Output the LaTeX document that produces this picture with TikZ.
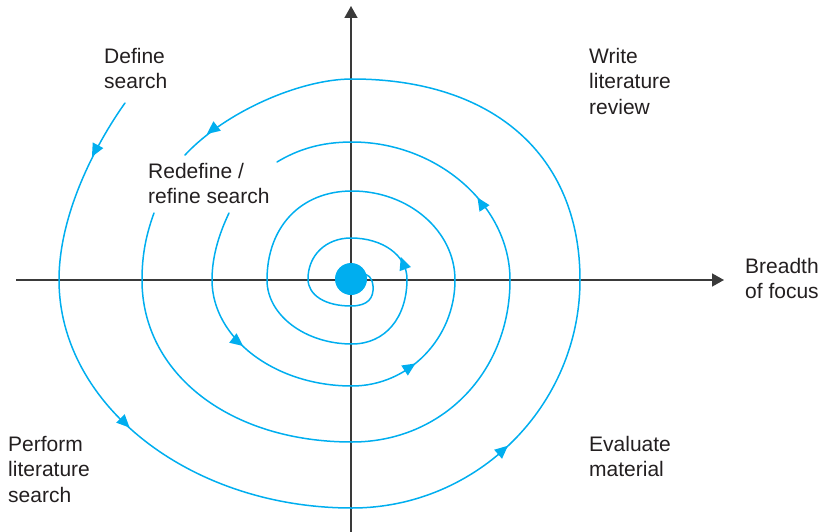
\documentclass[tikz,border=0pt]{standalone}
\usepackage{fontspec}
\setmainfont{Liberation Sans}
\usetikzlibrary{arrows.meta}
\definecolor{spiralblue}{HTML}{00AEEF}
\definecolor{axisgray}{HTML}{3A3A3A}
\definecolor{textdark}{HTML}{231F20}
\begin{document}
\begin{tikzpicture}[x=1pt,y=-1pt,
  spiral/.style={spiralblue, line width=1.5pt, line cap=round},
  axisline/.style={axisgray, line width=1.6pt},
  lbl/.style={anchor=north west, inner sep=0pt, align=left, text=textdark, font=\fontsize{21}{25.3}\selectfont},
  tri/.pic={\fill[spiralblue] (6.5,0) -- (-6.5,6) -- (-6.5,-6) -- cycle;}
]
\path[use as bounding box] (0,0) rectangle (821,532);
% axes
\coordinate (hs) at (16,280);
\coordinate (he) at (724,280);
\coordinate (vs) at (351,532);
\coordinate (ve) at (351,6);
\draw[axisline, -{Triangle[length=12pt,width=13pt]}] (hs) -- (he);
\draw[axisline, -{Triangle[length=12pt,width=13pt]}] (vs) -- (ve);
% outer loop
\draw[spiral] (125,103) .. controls (100,138) and (59,210) .. (59,280)
  .. controls (59,405.4) and (190.9,508) .. (352,508)
  .. controls (477.4,508) and (580,405.4) .. (580,280)
  .. controls (580,155.4) and (493.4,79) .. (352,79)
  .. controls (300,79) and (225,112) .. (185,155);
% middle loop
\draw[spiral] (154,213) .. controls (146,235) and (142,255) .. (142,280)
  .. controls (142,374) and (230.2,442) .. (352,442)
  .. controls (442.1,442) and (510,372.3) .. (510,280)
  .. controls (510,205.5) and (437.3,142) .. (352,142)
  .. controls (320,142) and (297,150) .. (277,162);
% inner spiral
\draw[spiral] (229,213) .. controls (220,232) and (212,255) .. (212,280)
  .. controls (212,338.3) and (275,386) .. (352,386)
  .. controls (408.7,386) and (455,338.3) .. (455,280)
  .. controls (455,231) and (408.7,191) .. (352,191)
  .. controls (301,191) and (267,226.6) .. (267,280)
  .. controls (267,315.2) and (305.3,344) .. (352,344)
  .. controls (385,344) and (407,318) .. (407,279)
  .. controls (407,255.6) and (382.9,238) .. (351,238)
  .. controls (326,238) and (308,255.2) .. (308,279)
  .. controls (308,295.2) and (325.2,306) .. (351,306)
  .. controls (368,306) and (374,298) .. (373,286)
  .. controls (372,277) and (368,274) .. (362,274);
% centre dot
\fill[spiralblue] (351,279) circle[radius=16];
% arrowheads
\pic[rotate=242] at (95,151) {tri};
\pic[rotate=-45] at (125,423) {tri};
\pic[rotate=41] at (503,450) {tri};
\pic[rotate=218] at (212,130) {tri};
\pic[rotate=123] at (481,203) {tri};
\pic[rotate=-38] at (238,342) {tri};
\pic[rotate=33] at (410,367) {tri};
\pic[rotate=110] at (403,263) {tri};
% labels
\node[lbl] (define) at (104,48) {Define\\search};
\node[lbl] (redefine) at (148,163) {Redefine /\\refine search};
\node[lbl] (write) at (589,48) {Write\\literature\\review};
\node[lbl] (breadth) at (745,258) {Breadth\\of focus};
\node[lbl] (perform) at (8,436) {Perform\\literature\\search};
\node[lbl] (evaluate) at (589,436) {Evaluate\\material};
\end{tikzpicture}
\end{document}
